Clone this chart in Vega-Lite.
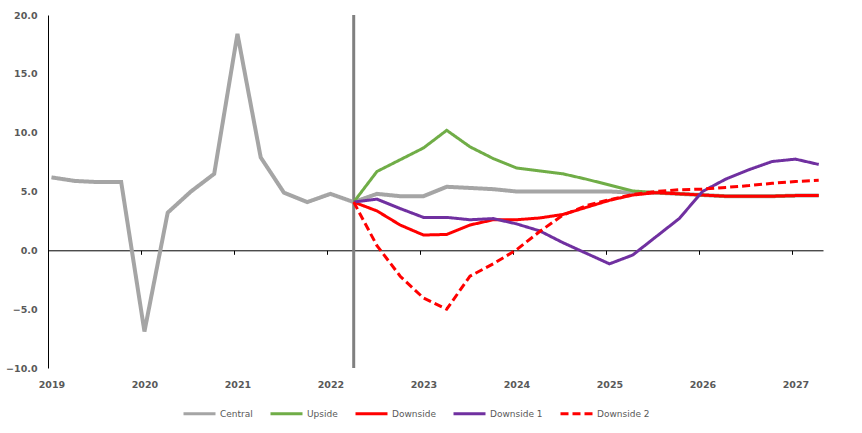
{
  "$schema": "https://vega.github.io/schema/vega-lite/v6.json",
  "width": 775,
  "height": 353,
  "autosize": {"type": "none"},
  "padding": {"left": 48, "top": 15, "right": 39, "bottom": 65},
  "background": "white",
  "config": {"view": {"stroke": null}, "font": "DejaVu Sans"},
  "datasets": {
    "marker": [{"t": 2022.25}],
    "series": [
      {"t": 2019.0, "series": "Central", "value": 6.2},
      {"t": 2019.25, "series": "Central", "value": 5.9},
      {"t": 2019.5, "series": "Central", "value": 5.8},
      {"t": 2019.75, "series": "Central", "value": 5.8},
      {"t": 2020.0, "series": "Central", "value": -6.9},
      {"t": 2020.25, "series": "Central", "value": 3.2},
      {"t": 2020.5, "series": "Central", "value": 5.0},
      {"t": 2020.75, "series": "Central", "value": 6.5},
      {"t": 2021.0, "series": "Central", "value": 18.4},
      {"t": 2021.25, "series": "Central", "value": 7.9},
      {"t": 2021.5, "series": "Central", "value": 4.9},
      {"t": 2021.75, "series": "Central", "value": 4.1},
      {"t": 2022.0, "series": "Central", "value": 4.8},
      {"t": 2022.25, "series": "Central", "value": 4.1},
      {"t": 2022.5, "series": "Central", "value": 4.8},
      {"t": 2022.75, "series": "Central", "value": 4.6},
      {"t": 2023.0, "series": "Central", "value": 4.6},
      {"t": 2023.25, "series": "Central", "value": 5.4},
      {"t": 2023.5, "series": "Central", "value": 5.3},
      {"t": 2023.75, "series": "Central", "value": 5.2},
      {"t": 2024.0, "series": "Central", "value": 5.0},
      {"t": 2024.25, "series": "Central", "value": 5.0},
      {"t": 2024.5, "series": "Central", "value": 5.0},
      {"t": 2024.75, "series": "Central", "value": 5.0},
      {"t": 2025.0, "series": "Central", "value": 5.0},
      {"t": 2025.25, "series": "Central", "value": 4.9},
      {"t": 2025.5, "series": "Central", "value": 4.9},
      {"t": 2025.75, "series": "Central", "value": 4.8},
      {"t": 2026.0, "series": "Central", "value": 4.7},
      {"t": 2026.25, "series": "Central", "value": 4.6},
      {"t": 2026.5, "series": "Central", "value": 4.6},
      {"t": 2026.75, "series": "Central", "value": 4.6},
      {"t": 2027.0, "series": "Central", "value": 4.65},
      {"t": 2027.25, "series": "Central", "value": 4.65},

      {"t": 2022.25, "series": "Upside", "value": 4.1},
      {"t": 2022.5, "series": "Upside", "value": 6.7},
      {"t": 2022.75, "series": "Upside", "value": 7.7},
      {"t": 2023.0, "series": "Upside", "value": 8.7},
      {"t": 2023.25, "series": "Upside", "value": 10.2},
      {"t": 2023.5, "series": "Upside", "value": 8.8},
      {"t": 2023.75, "series": "Upside", "value": 7.8},
      {"t": 2024.0, "series": "Upside", "value": 7.0},
      {"t": 2024.25, "series": "Upside", "value": 6.75},
      {"t": 2024.5, "series": "Upside", "value": 6.5},
      {"t": 2024.75, "series": "Upside", "value": 6.05},
      {"t": 2025.0, "series": "Upside", "value": 5.55},
      {"t": 2025.25, "series": "Upside", "value": 5.05},
      {"t": 2025.5, "series": "Upside", "value": 4.9},
      {"t": 2025.75, "series": "Upside", "value": 4.8},
      {"t": 2026.0, "series": "Upside", "value": 4.7},
      {"t": 2026.25, "series": "Upside", "value": 4.6},
      {"t": 2026.5, "series": "Upside", "value": 4.6},
      {"t": 2026.75, "series": "Upside", "value": 4.6},
      {"t": 2027.0, "series": "Upside", "value": 4.65},
      {"t": 2027.25, "series": "Upside", "value": 4.65},

      {"t": 2022.25, "series": "Downside", "value": 4.1},
      {"t": 2022.5, "series": "Downside", "value": 3.35},
      {"t": 2022.75, "series": "Downside", "value": 2.15},
      {"t": 2023.0, "series": "Downside", "value": 1.3},
      {"t": 2023.25, "series": "Downside", "value": 1.35},
      {"t": 2023.5, "series": "Downside", "value": 2.15},
      {"t": 2023.75, "series": "Downside", "value": 2.6},
      {"t": 2024.0, "series": "Downside", "value": 2.6},
      {"t": 2024.25, "series": "Downside", "value": 2.75},
      {"t": 2024.5, "series": "Downside", "value": 3.05},
      {"t": 2024.75, "series": "Downside", "value": 3.65},
      {"t": 2025.0, "series": "Downside", "value": 4.25},
      {"t": 2025.25, "series": "Downside", "value": 4.7},
      {"t": 2025.5, "series": "Downside", "value": 4.9},
      {"t": 2025.75, "series": "Downside", "value": 4.8},
      {"t": 2026.0, "series": "Downside", "value": 4.7},
      {"t": 2026.25, "series": "Downside", "value": 4.6},
      {"t": 2026.5, "series": "Downside", "value": 4.6},
      {"t": 2026.75, "series": "Downside", "value": 4.6},
      {"t": 2027.0, "series": "Downside", "value": 4.65},
      {"t": 2027.25, "series": "Downside", "value": 4.65},

      {"t": 2022.25, "series": "Downside 1", "value": 4.1},
      {"t": 2022.5, "series": "Downside 1", "value": 4.35},
      {"t": 2022.75, "series": "Downside 1", "value": 3.55},
      {"t": 2023.0, "series": "Downside 1", "value": 2.8},
      {"t": 2023.25, "series": "Downside 1", "value": 2.8},
      {"t": 2023.5, "series": "Downside 1", "value": 2.6},
      {"t": 2023.75, "series": "Downside 1", "value": 2.7},
      {"t": 2024.0, "series": "Downside 1", "value": 2.25},
      {"t": 2024.25, "series": "Downside 1", "value": 1.65},
      {"t": 2024.5, "series": "Downside 1", "value": 0.65},
      {"t": 2024.75, "series": "Downside 1", "value": -0.25},
      {"t": 2025.0, "series": "Downside 1", "value": -1.15},
      {"t": 2025.25, "series": "Downside 1", "value": -0.4},
      {"t": 2025.5, "series": "Downside 1", "value": 1.15},
      {"t": 2025.75, "series": "Downside 1", "value": 2.7},
      {"t": 2026.0, "series": "Downside 1", "value": 5.0},
      {"t": 2026.25, "series": "Downside 1", "value": 6.05},
      {"t": 2026.5, "series": "Downside 1", "value": 6.85},
      {"t": 2026.75, "series": "Downside 1", "value": 7.55},
      {"t": 2027.0, "series": "Downside 1", "value": 7.75},
      {"t": 2027.25, "series": "Downside 1", "value": 7.3},

      {"t": 2022.25, "series": "Downside 2", "value": 4.1},
      {"t": 2022.5, "series": "Downside 2", "value": 0.4},
      {"t": 2022.75, "series": "Downside 2", "value": -2.2},
      {"t": 2023.0, "series": "Downside 2", "value": -4.05},
      {"t": 2023.25, "series": "Downside 2", "value": -5.0},
      {"t": 2023.5, "series": "Downside 2", "value": -2.2},
      {"t": 2023.75, "series": "Downside 2", "value": -1.15},
      {"t": 2024.0, "series": "Downside 2", "value": 0.05},
      {"t": 2024.25, "series": "Downside 2", "value": 1.6},
      {"t": 2024.5, "series": "Downside 2", "value": 3.0},
      {"t": 2024.75, "series": "Downside 2", "value": 3.8},
      {"t": 2025.0, "series": "Downside 2", "value": 4.3},
      {"t": 2025.25, "series": "Downside 2", "value": 4.75},
      {"t": 2025.5, "series": "Downside 2", "value": 5.0},
      {"t": 2025.75, "series": "Downside 2", "value": 5.15},
      {"t": 2026.0, "series": "Downside 2", "value": 5.2},
      {"t": 2026.25, "series": "Downside 2", "value": 5.35},
      {"t": 2026.5, "series": "Downside 2", "value": 5.5},
      {"t": 2026.75, "series": "Downside 2", "value": 5.7},
      {"t": 2027.0, "series": "Downside 2", "value": 5.85},
      {"t": 2027.25, "series": "Downside 2", "value": 5.95}
    ]
  },
  "layer": [
    {
      "data": {"name": "marker"},
      "mark": {"type": "rule", "color": "#808080", "strokeWidth": 3},
      "encoding": {
        "x": {"field": "t", "type": "quantitative", "title": null,
              "scale": {"domain": [2018.963, 2027.296], "nice": false, "zero": false}}
      }
    },
    {
      "data": {"name": "series"},
      "transform": [{"filter": "datum.series === 'Central'"}],
      "mark": {"type": "line", "strokeWidth": 4},
      "encoding": {
        "x": {"field": "t", "type": "quantitative", "title": null,
              "scale": {"domain": [2018.963, 2027.296], "nice": false, "zero": false},
              "axis": {"values": [2019, 2020, 2021, 2022, 2023, 2024, 2025, 2026, 2027], "format": "d",
                       "offset": -117.7, "domainColor": "#000000", "domainWidth": 1,
                       "tickColor": "#000000", "tickSize": 4, "tickOffset": -3.3, "labelOffset": 3.3,
                       "labelPadding": 125, "labelBaseline": "top", "labelFont": "DejaVu Sans",
                       "labelFontWeight": "bold", "labelFontSize": 9.5, "labelColor": "#595959",
                       "grid": false, "labelFlush": false}},
        "y": {"field": "value", "type": "quantitative", "title": null,
              "scale": {"domain": [-10, 20], "nice": false, "zero": false},
              "axis": {"values": [-10, -5, 0, 5, 10, 15, 20], "format": ".1f", "ticks": false,
                       "domainColor": "#000000", "domainWidth": 1, "labelPadding": 11,
                       "labelFont": "DejaVu Sans", "labelFontWeight": "bold", "labelFontSize": 9.5,
                       "labelColor": "#595959", "grid": false}},
        "color": {"field": "series", "type": "nominal", "title": null,
                  "scale": {"domain": ["Central", "Upside", "Downside", "Downside 1", "Downside 2"],
                            "range": ["#A5A5A5", "#70AD47", "#FF0000", "#7030A0", "#FF0000"]},
                  "legend": {"orient": "none", "legendX": 134, "legendY": 381, "direction": "horizontal",
                             "symbolType": "stroke", "symbolSize": 1024, "symbolStrokeWidth": 3,
                             "labelFont": "DejaVu Sans", "labelFontSize": 9, "labelColor": "#595959",
                             "labelOffset": 3, "columnPadding": 11}},
        "strokeDash": {"field": "series", "type": "nominal", "title": null,
                       "scale": {"domain": ["Central", "Upside", "Downside", "Downside 1", "Downside 2"],
                                 "range": [[1, 0], [1, 0], [1, 0], [1, 0], [8, 4]]},
                       "legend": {"orient": "none", "legendX": 134, "legendY": 381, "direction": "horizontal",
                                  "symbolType": "stroke", "symbolSize": 1024, "symbolStrokeWidth": 3,
                                  "labelFont": "DejaVu Sans", "labelFontSize": 9, "labelColor": "#595959",
                                  "labelOffset": 3, "columnPadding": 11}}
      }
    },
    {
      "data": {"name": "series"},
      "transform": [{"filter": "datum.series !== 'Central'"}],
      "mark": {"type": "line", "strokeWidth": 3},
      "encoding": {
        "x": {"field": "t", "type": "quantitative", "title": null,
              "scale": {"domain": [2018.963, 2027.296], "nice": false, "zero": false}},
        "y": {"field": "value", "type": "quantitative", "title": null,
              "scale": {"domain": [-10, 20], "nice": false, "zero": false}},
        "color": {"field": "series", "type": "nominal", "title": null},
        "strokeDash": {"field": "series", "type": "nominal", "title": null}
      }
    }
  ]
}
